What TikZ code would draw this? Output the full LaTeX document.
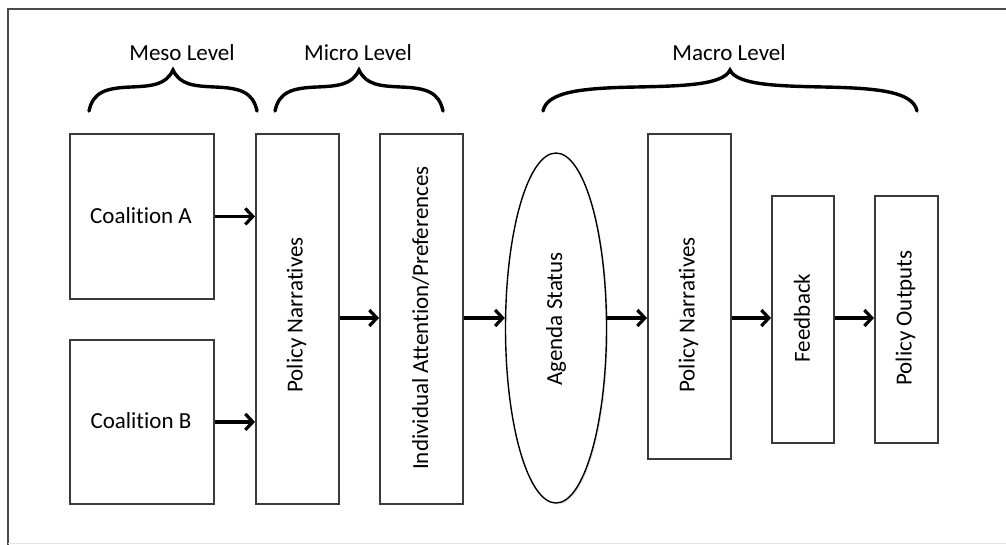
\documentclass[tikz,border=0pt]{standalone}
\usepackage{fontspec}
\setmainfont{Carlito}[Ligatures=NoCommon]
\usetikzlibrary{arrows.meta,shapes.geometric,shadows}
\definecolor{boxgray}{HTML}{3A3A3A}
\definecolor{framegray}{HTML}{4A4A4A}
\begin{document}
\begin{tikzpicture}[x=1pt,y=-1pt,
  box/.style={draw=boxgray, line width=1.8pt, fill=white, inner sep=0pt, anchor=north west,
    drop shadow={shadow xshift=1.5pt, shadow yshift=-1.5pt, opacity=0.2}},
  oval/.style={draw=black, line width=1.4pt, fill=white, ellipse, inner sep=0pt,
    drop shadow={shadow xshift=1.5pt, shadow yshift=-1.5pt, opacity=0.2}},
  lbl/.style={font=\fontsize{23}{27}\selectfont, inner sep=0pt},
  vlbl/.style={lbl, rotate=90},
  flow/.style={line width=3.2pt, -{Straight Barb[length=7.5pt, width=16pt, line width=3.2pt]}},
  bracestyle/.style={line width=3.4pt, line cap=round}]
\useasboundingbox (0,0) rectangle (1006,544);
\fill[white] (0,0) rectangle (1006,544);
% frame
\draw[framegray, line width=1.6pt] (8,548) -- (8,9) -- (1010,9);
\draw[black!10, line width=1pt] (8,543) -- (1006,543);

% braces
\foreach \a/\b in {89/257, 275/443, 543/917} {
  \pgfmathsetmacro\m{(\a+\b)/2}
  \pgfmathsetmacro\h{(\b-\a)/2}
  \draw[bracestyle] (\a,111) .. controls (\a+4,92) and (\a+0.2*\h,88) .. (\a+0.5*\h,87)
     .. controls (\m-0.25*\h,86) and (\m-7,85) .. (\m,70)
     .. controls (\m+7,85) and (\m+0.25*\h,86) .. (\b-0.5*\h,87)
     .. controls (\b-0.2*\h,88) and (\b-4,92) .. (\b,111);
}
\node[lbl] (meso) at (182,53) {Meso Level};
\node[lbl] (micro) at (358,53) {Micro Level};
\node[lbl] (macro) at (729,53) {Macro Level};

% boxes
\node[box, minimum width=144, minimum height=165] (coalA) at (69,133) {};
\node[lbl] (coalAt) at (141,215.5) {Coalition A};
\node[box, minimum width=144, minimum height=164] (coalB) at (69,339) {};
\node[lbl] (coalBt) at (141,421) {Coalition B};
\node[box, minimum width=83, minimum height=370] (pn1) at (255,133) {};
\node[vlbl] (pn1t) at (296.5,315) {Policy Narratives};
\node[box, minimum width=83, minimum height=370] (ia) at (379,133) {};
\node[vlbl] (iat) at (420.5,318) {Individual Attention/Preferences};
\node[oval, minimum width=101, minimum height=350] (agenda) at (556,328) {};
\node[vlbl] (agendat) at (556,319) {Agenda Status};
\node[box, minimum width=83, minimum height=325] (pn2) at (647,133) {};
\node[vlbl] (pn2t) at (688.5,315) {Policy Narratives};
\node[box, minimum width=62, minimum height=247] (fb) at (771,195) {};
\node[vlbl] (fbt) at (802,318) {Feedback};
\node[box, minimum width=63, minimum height=247] (out) at (874,195) {};
\node[vlbl] (outt) at (905.5,318) {Policy Outputs};

% connectors
\coordinate (row) at (0,318);
\draw[flow] (coalA.east) -- (coalA.east -| pn1.west);
\draw[flow] (coalB.east) -- (coalB.east -| pn1.west);
\draw[flow] (pn1.east |- row) -- (ia.west |- row);
\draw[flow] (ia.east |- row) -- (agenda.west |- row);
\draw[flow] (agenda.east |- row) -- (pn2.west |- row);
\draw[flow] (pn2.east |- row) -- (fb.west |- row);
\draw[flow] (fb.east |- row) -- (out.west |- row);
\end{tikzpicture}
\end{document}
